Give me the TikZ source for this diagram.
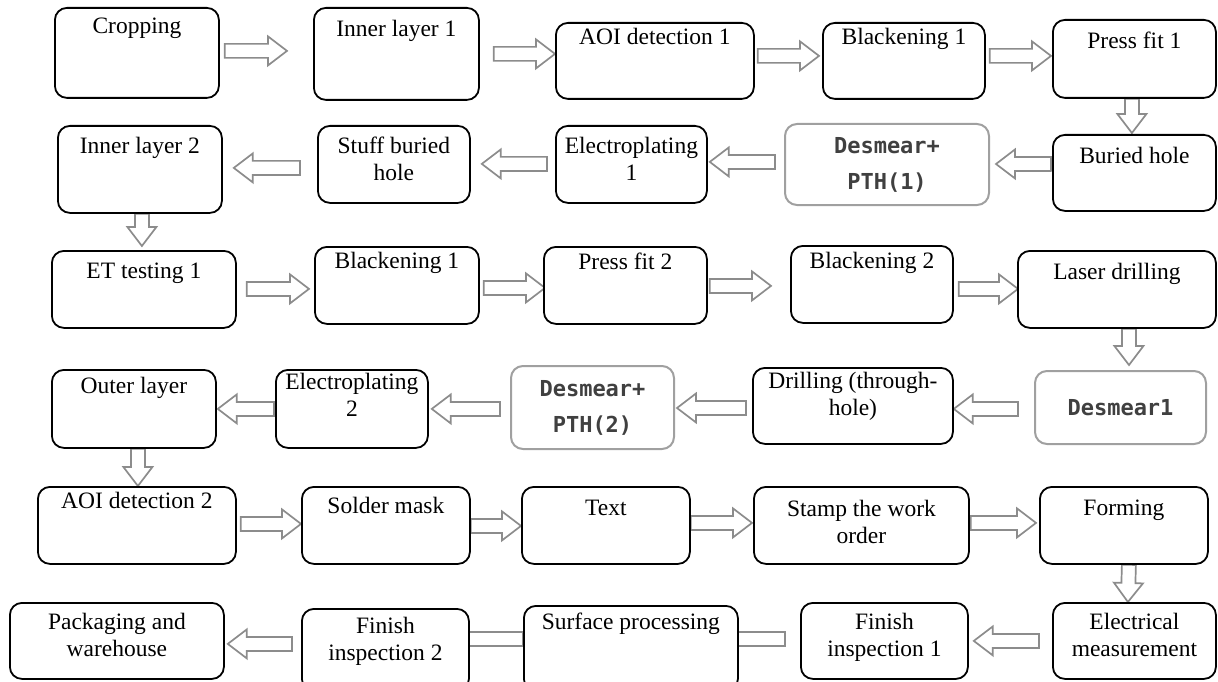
\documentclass[tikz,border=0pt]{standalone}
\usepackage{fontspec}
\setmainfont{Liberation Serif}
\newfontfamily\dmfont{DejaVu Sans Mono}
\usetikzlibrary{calc,backgrounds}
\definecolor{arrowgray}{HTML}{8C8C8C}
\definecolor{dmgray}{HTML}{A0A0A0}

\tikzset{
  stepbox/.style={draw, line width=1.8pt, rounded corners=12pt, fill=white, anchor=north west, inner sep=0pt},
  dmbox/.style={draw=dmgray, line width=2pt, rounded corners=12pt, fill=white, anchor=north west, align=center,
    text=black!75, font=\dmfont\bfseries\fontsize{22}{36}\selectfont},
  txt/.style={anchor=north, align=center, inner sep=0pt, font=\fontsize{23.5}{27}\selectfont},
  flow/.style={draw=arrowgray, fill=white, line width=1.7pt, line join=miter,
    to path={let \p1=(\tikztostart), \p2=(\tikztotarget),
      \n1={atan2(\y2-\y1,\x2-\x1)}, \n2={veclen(\x2-\x1,\y2-\y1)-19} in
      ([shift={(\p1)},rotate=\n1]0pt,7pt) -- ([shift={(\p1)},rotate=\n1]\n2,7pt)
      -- ([shift={(\p1)},rotate=\n1]\n2,14.5pt) -- (\p2)
      -- ([shift={(\p1)},rotate=\n1]\n2,-14.5pt) -- ([shift={(\p1)},rotate=\n1]\n2,-7pt)
      -- ([shift={(\p1)},rotate=\n1]0pt,-7pt) -- cycle}}
}

\begin{document}
\begin{tikzpicture}[x=1pt, y=-1pt]
\useasboundingbox (0,0) rectangle (1218,682);

% Row 1
\node[stepbox, minimum width=164pt, minimum height=90pt, label={[txt,yshift=-11pt]north:Cropping}] (crop) at (54,7) {};
\node[stepbox, minimum width=165pt, minimum height=92pt, label={[txt,yshift=-13pt]north:Inner layer 1}] (in1) at (313,7) {};
\node[stepbox, minimum width=198pt, minimum height=76pt, label={[txt,yshift=-6pt]north:AOI detection 1}] (aoi1) at (555,22) {};
\node[stepbox, minimum width=162pt, minimum height=76pt, label={[txt,yshift=-6pt]north:Blackening 1}] (bl1) at (822,22) {};
\node[stepbox, minimum width=163pt, minimum height=78pt, label={[txt,yshift=-13pt]north:Press fit 1}] (pf1) at (1052,19) {};

% Row 2
\node[stepbox, minimum width=164pt, minimum height=87pt, label={[txt,yshift=-12pt]north:Inner layer 2}] (in2) at (57,125) {};
\node[stepbox, minimum width=152pt, minimum height=77pt, label={[txt,yshift=-12pt]north:Stuff buried\\hole}] (stuff) at (317,125) {};
\node[stepbox, minimum width=151pt, minimum height=77pt, label={[txt,yshift=-12pt]north:Electroplating\\1}] (el1) at (555,125) {};
\node[dmbox, minimum width=204pt, minimum height=81pt] (dp1) at (784,123) {Desmear+\\PTH(1)};
\node[stepbox, minimum width=163pt, minimum height=76pt, label={[txt,yshift=-13pt]north:Buried hole}] (bh) at (1052,134) {};

% Row 3
\node[stepbox, minimum width=184pt, minimum height=77pt, label={[txt,yshift=-13pt]north:ET testing 1}] (et1) at (51,250) {};
\node[stepbox, minimum width=164pt, minimum height=77pt, label={[txt,yshift=-6pt]north:Blackening 1}] (bl3) at (314,246) {};
\node[stepbox, minimum width=163pt, minimum height=77pt, label={[txt,yshift=-7pt]north:Press fit 2}] (pf2) at (543,246) {};
\node[stepbox, minimum width=162pt, minimum height=77pt, label={[txt,yshift=-7pt]north:Blackening 2}] (bl2) at (790,245) {};
\node[stepbox, minimum width=198pt, minimum height=77pt, label={[txt,yshift=-13pt]north:Laser drilling}] (ld) at (1017,250) {};

% Row 4
\node[stepbox, minimum width=164pt, minimum height=78pt, label={[txt,yshift=-8pt]north:Outer layer}] (out) at (51,369) {};
\node[stepbox, minimum width=152pt, minimum height=78pt, label={[txt,yshift=-4pt]north:Electroplating\\2}] (el2) at (275,369) {};
\node[dmbox, minimum width=163pt, minimum height=83pt] (dp2) at (510,365) {Desmear+\\PTH(2)};
\node[stepbox, minimum width=200pt, minimum height=76pt, label={[txt,yshift=-5pt]north:Drilling (through-\\hole)}] (dr) at (752,367) {};
\node[dmbox, minimum width=171pt, minimum height=73pt] (dm1) at (1034,370) {Desmear1};

% Row 5
\node[stepbox, minimum width=198pt, minimum height=77pt, label={[txt,yshift=-6pt]north:AOI detection 2}] (aoi2) at (37,486) {};
\node[stepbox, minimum width=168pt, minimum height=77pt, label={[txt,yshift=-11pt]north:Solder mask}] (sm) at (301,486) {};
\node[stepbox, minimum width=168pt, minimum height=77pt, label={[txt,yshift=-14pt]north:Text}] (tx) at (521,486) {};
\node[stepbox, minimum width=215pt, minimum height=77pt, label={[txt,yshift=-14pt]north:Stamp the work\\order}] (st) at (753,486) {};
\node[stepbox, minimum width=168pt, minimum height=77pt, label={[txt,yshift=-14pt]north:Forming}] (fo) at (1039,486) {};

% Row 6
\node[stepbox, minimum width=214pt, minimum height=76pt, label={[txt,yshift=-11pt]north:Packaging and\\warehouse}] (pk) at (9,602) {};
\node[stepbox, minimum width=167pt, minimum height=82pt, label={[txt,yshift=-9pt]north:Finish\\inspection 2}] (fi2) at (301,608) {};
\node[stepbox, minimum width=214pt, minimum height=85pt, label={[txt,yshift=-8pt]north:Surface processing}] (sp) at (523,605) {};
\node[stepbox, minimum width=167pt, minimum height=76pt, label={[txt,yshift=-11pt]north:Finish\\inspection 1}] (fi1) at (800,602) {};
\node[stepbox, minimum width=163pt, minimum height=76pt, label={[txt,yshift=-11pt]north:Electrical\\measurement}] (em) at (1052,602) {};

% hollow arrows, under the boxes
\begin{scope}[on background layer]
\path[flow]
  ([xshift=5pt,yshift=2pt]crop.east) to ([xshift=-26pt,yshift=3pt]in1.west)
  ([xshift=14pt]in1.east) to ([yshift=7pt]aoi1.west)
  ([xshift=3pt,yshift=5pt]aoi1.east) to ([xshift=-3pt,yshift=5pt]bl1.west)
  ([xshift=4pt,yshift=5pt]bl1.east) to ([xshift=-1pt,yshift=3pt]pf1.west)
  ([xshift=-2.5pt]pf1.south) to ([xshift=-2.5pt,yshift=1pt]bh.north)
  ([xshift=-1pt,yshift=9pt]bh.west) to ([xshift=6pt,yshift=0.5pt]dp1.east)
  ([xshift=-9pt,yshift=2.5pt]dp1.west) to ([xshift=2pt,yshift=2.5pt]el1.east)
  ([xshift=-8pt,yshift=0.5pt]el1.west) to ([xshift=11pt,yshift=0.5pt]stuff.east)
  ([xshift=-17pt,yshift=-3.5pt]stuff.west) to ([xshift=11pt,yshift=1.5pt]in2.east)
  ([xshift=2pt]in2.south) to ([xshift=-2pt,yshift=4pt]et1.north)
  ([xshift=10pt,yshift=0.5pt]et1.east) to ([xshift=-5pt,yshift=-3.5pt]bl3.west)
  ([xshift=4pt,yshift=-2.5pt]bl3.east) to ([xshift=2pt,yshift=-2.5pt]pf2.west)
  ([xshift=2pt,yshift=-0.5pt]pf2.east) to ([xshift=-19pt,yshift=-1.5pt]bl2.west)
  ([xshift=5pt,yshift=-4.5pt]bl2.east) to ([xshift=1pt,yshift=0.5pt]ld.west)
  ([xshift=12pt]ld.south) to ([xshift=8.5pt,yshift=5pt]dm1.north)
  ([xshift=-16pt,yshift=-1.5pt]dm1.west) to ([yshift=-3pt]dr.east)
  ([xshift=-6pt,yshift=-2pt]dr.west) to ([xshift=2pt,yshift=-0.5pt]dp2.east)
  ([xshift=-10pt,yshift=-1.5pt]dp2.west) to ([xshift=3pt]el2.east)
  ([xshift=-1pt]el2.west) to ([xshift=1pt]out.east)
  ([xshift=4pt]out.south) to ([xshift=1pt]aoi2.north)
  ([xshift=4pt,yshift=1.5pt]aoi2.east) to ([yshift=1.5pt]sm.west)
  ([yshift=-0.5pt]sm.east) to ([yshift=-0.5pt]tx.west)
  ([yshift=2.5pt]tx.east) to ([xshift=-1pt,yshift=2.5pt]st.west)
  ([xshift=1pt,yshift=2.5pt]st.east) to ([xshift=-3pt,yshift=2.5pt]fo.west)
  ([xshift=5pt]fo.south) to ([xshift=-6.5pt]em.north)
  ([xshift=-13pt]em.west) to ([xshift=5pt]fi1.east)
  ([xshift=-15pt,yshift=2pt]fi1.west) to ([xshift=-30pt,yshift=9.5pt]sp.east)
  ([yshift=9.5pt]sp.west) to ([xshift=-30pt,yshift=11pt]fi2.east)
  ([xshift=-9pt,yshift=6pt]fi2.west) to ([xshift=3pt,yshift=-3pt]pk.east);
\end{scope}
\end{tikzpicture}
\end{document}
